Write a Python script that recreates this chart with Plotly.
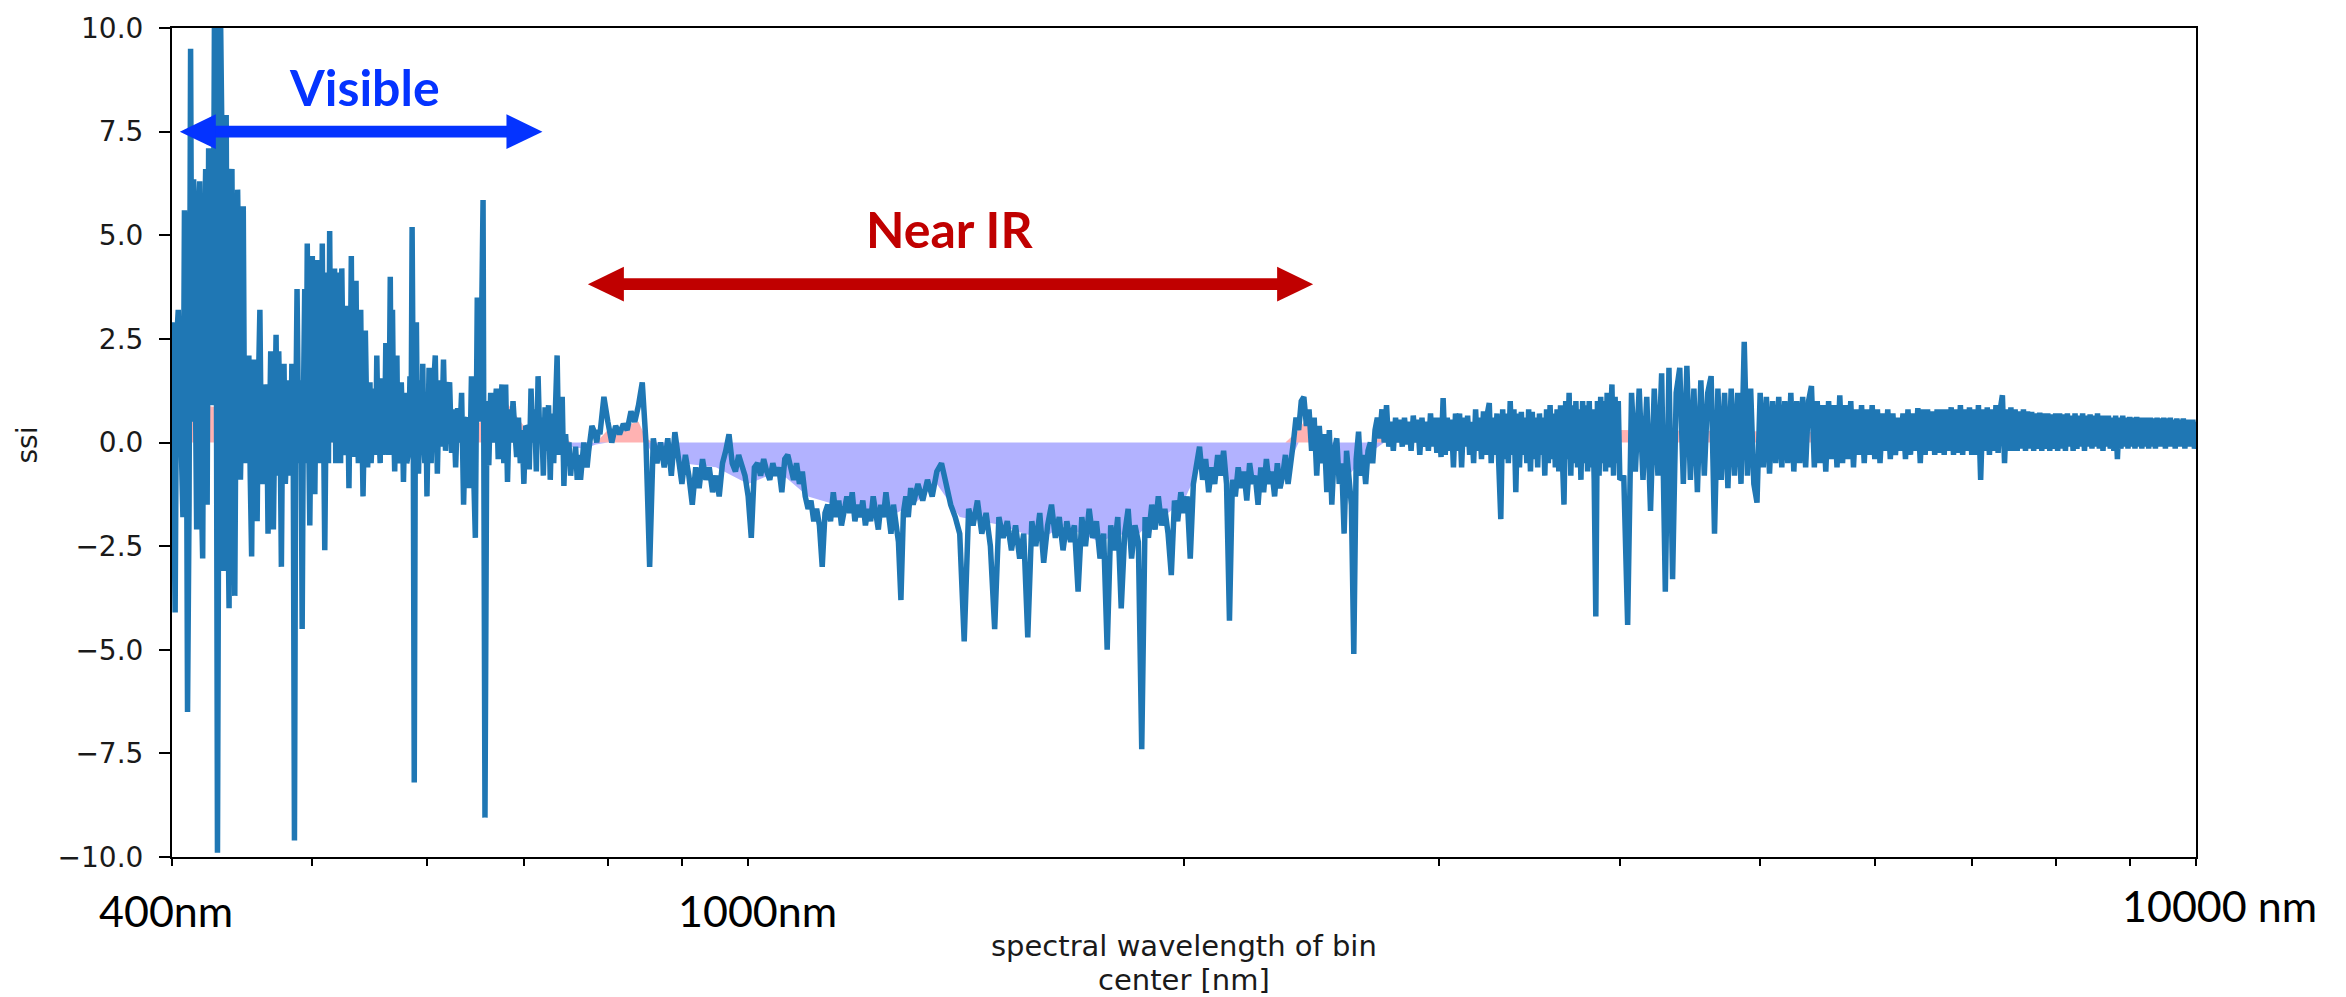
import math
import plotly.graph_objects as go

# ---------------- data ----------------
wl_vis = [400, 402, 404, 406, 408, 410, 412, 414, 416, 418,
          420, 422, 424, 426, 428, 430, 432, 434, 436, 438,
          440, 442, 444, 446, 448, 450, 452, 454, 456, 458,
          460, 462, 464, 466, 468, 470, 472, 474, 476, 478,
          480, 482, 484, 486, 488, 490, 492, 494, 496, 498,
          500, 502, 504, 506, 508, 510, 512, 514, 516, 518,
          520, 522, 524, 526, 528, 530, 532, 534, 536, 538,
          540, 542, 544, 546, 548, 550, 552, 554, 556, 558,
          560, 562, 564, 566, 568, 570, 572, 574, 576, 578,
          580, 582, 584, 586, 588, 590, 592, 594, 596, 598,
          600, 602, 604, 606, 608, 610, 612, 614, 616, 618,
          620, 622, 624, 626, 628, 630, 632, 634, 636, 638,
          640, 642, 644, 646, 648, 650, 652, 654, 656, 658,
          660, 662, 664, 666, 668, 670, 672, 674, 676, 678,
          680, 682, 684, 686, 688, 690, 692, 694, 696, 698,
          700, 702, 704, 706, 708, 710, 712, 714, 716, 718,
          720, 722, 724, 726, 728, 730, 732, 734, 736, 738,
          740, 742, 744, 746, 748, 750, 752, 754, 756, 758,
          760, 762, 764, 766, 768, 770, 772, 774, 776, 778,
          780, 782, 784, 786, 788, 790]
ssi_vis = [2.9, -4.1, 3.2, -0.8, 5.6, -6.5, 9.5, 6.35, -2.1, 6.3,
           -2.8, 6.6, 7.1, 0.9, 10.8, -9.9, 10.6, -3.1, 7.9, -4.0,
           6.6, -3.7, 6.1, -0.9, 5.7, 0.35, 2.1, -2.75, 2.0, -1.9,
           3.2, -1.0, 1.4, -2.2, 2.2, -2.1, 2.6, 2.2, -3.0, 1.9,
           -0.2, 1.5, 1.9, -9.6, 3.7, -0.5, -4.5, 3.7, 4.8, -2.0,
           4.5, -1.25, 4.4, -0.5, 4.8, -2.6, 4.1, 5.1, 0.0, 4.2,
           0.8, 4.1, 4.2, -0.3, 3.3, -1.1, 4.5, -0.35, 3.9, -0.5,
           3.2, -1.3, 2.7, -0.6, 1.45, 0.0, 1.3, 2.1, 0.2, 1.55,
           0.6, 2.4, -0.3, 4.0, 3.2, -0.7, 2.1, 0.0, 1.45, -0.95,
           1.2, -0.35, 1.6, 5.2, -8.2, 2.9, -0.75, 1.5, 1.9, -0.5,
           -1.3, 1.8, -0.5, 1.2, 2.1, -0.75, 1.5, -0.1, 2.0, -0.2,
           1.2, 1.45, -0.25, 0.8, -0.6, 0.83, 0.0, 1.2, -1.5, 0.5,
           0.6, -1.1, 1.6, -0.5, -2.3, 3.5, 0.5, 2.0, 5.85, -9.05,
           1.0, -0.55, 1.2, 0.0, 1.0, 1.3, -0.4, 0.8, 1.4, -0.5,
           1.4, -0.95, 0.8, 0.0, 1.0, 0.3, -0.35, 0.6, -0.5, 0.3,
           -1.0, 0.4, 0.35, -0.65, 1.3, 0.0, 0.8, -0.7, 1.6, 0.0,
           0.6, -0.8, 0.85, -0.2, 0.9, -0.9, 0.7, -0.5, 0.8, 2.1,
           -0.3, 0.6, 1.1, -1.05, 0.2, -0.5, 0.0, -0.8, -0.3, -0.6,
           -0.1, -0.9, -0.3, -0.9, -0.5, 0.0, -0.35, -0.6, -0.2, 0.1,
           0.4, 0.3, 0.2, 0.0, 0.3, 0.2]

# in-between bins of the dense visible part
wl_vis_odd = [401, 403, 405, 407, 409, 411, 413, 415, 417, 419,
              421, 423, 425, 427, 429, 431, 433, 435, 437, 439,
              441, 443, 445, 447, 449, 451, 453, 455, 457, 459,
              461, 463, 465, 467, 469, 471, 473, 475, 477, 479,
              481, 483, 485, 487, 489, 491, 493, 495, 497, 499,
              501, 503, 505, 507, 509, 511, 513, 515, 517, 519,
              521, 523, 525, 527, 529, 531, 533, 535, 537, 539,
              541, 543, 545, 547, 549, 551, 553, 555, 557, 559,
              561, 563, 565, 567, 569, 571, 573, 575, 577, 579,
              581, 583, 585, 587, 589, 591, 593, 595, 597, 599]
ssi_vis_odd = [-1.0, 2.5, 1.5, -1.8, 4.5, -1.5, 0.5, 3.0, 5.5, -1.0,
               4.5, -1.5, 5.5, 2.0, 6.5, 1.0, 7.5, 1.5, -1.0, 5.0,
               0.5, 2.0, 3.5, 1.0, -0.5, 1.2, -0.8, 1.0, 0.5, 1.5,
               0.0, -0.5, 1.2, 0.0, 0.5, 0.5, -0.8, 0.5, 1.0, -1.0,
               0.8, -0.8, 0.5, 0.5, 0.8, 1.5, 1.0, -0.5, 0.5, 0.8,
               0.5, 1.5, 0.5, 1.0, 0.5, 0.5, -0.5, 1.0, 1.5, -0.5,
               1.0, -0.5, 1.5, 0.0, 1.0, 1.2, 0.5, 1.0, 0.5, 1.2,
               0.5, 0.2, 1.0, 0.5, -0.5, 0.8, -0.3, 0.5, -0.5, -0.3,
               0.2, 0.5, 0.8, -0.3, 0.5, 0.8, -0.5, -0.5, 0.5, 0.3,
               -0.5, 0.0, 0.0, 1.0, 0.5, 0.0, 0.5, -0.3, 0.0, 0.8]

wl_nir1 = [795, 800, 805, 810, 815, 820, 825, 830, 835, 840,
           845, 850, 855, 860, 865, 870, 875, 880, 885, 890,
           895, 900, 905, 910, 915, 920, 925, 930, 935, 940,
           945, 950, 955, 960, 965, 970, 975, 980, 985, 990,
           995, 1000, 1005, 1010, 1015, 1020, 1025, 1030, 1035, 1040,
           1045, 1050, 1055, 1060, 1065, 1070, 1075, 1080, 1085, 1090,
           1095, 1100, 1105, 1110, 1115, 1120, 1125, 1130, 1135, 1140,
           1145, 1150, 1155, 1160, 1165, 1170, 1175, 1180, 1185, 1190,
           1195, 1200, 1205, 1210, 1215, 1220, 1225, 1230, 1235, 1240,
           1245, 1250, 1255, 1260, 1265, 1270, 1275, 1280, 1285, 1290,
           1295, 1300]
ssi_nir1 = [1.1, 0.5, 0.0, 0.4, 0.2, 0.45, 0.3, 0.75, 0.5, 0.9,
            1.45, 0.0, -3.0, 0.1, -0.5, 0.0, -0.6, 0.1, -0.8, 0.25,
            -0.5, -1.0, -0.3, -0.8, -1.5, -0.6, -1.1, -0.4, -0.9, -0.6,
            -1.2, -0.8, -1.3, -0.5, -0.2, 0.2, -0.5, -0.7, -0.3, -0.6,
            -0.8, -1.3, -2.3, -0.6, -0.5, -0.8, -0.4, -0.7, -0.9, -0.5,
            -0.8, -0.6, -1.2, -0.4, -0.3, -0.6, -0.9, -0.5, -1.0, -0.7,
            -1.3, -1.6, -1.4, -1.9, -1.6, -2.0, -3.0, -1.7, -1.5, -1.9,
            -1.2, -1.8, -1.4, -2.0, -1.6, -1.3, -1.7, -1.2, -1.9, -1.5,
            -1.8, -1.4, -2.0, -1.6, -1.9, -1.3, -1.7, -2.1, -1.5, -1.8,
            -1.2, -1.6, -2.2, -1.5, -2.0, -2.4, -3.8, -1.7, -1.3, -1.8,
            -1.1, -1.5]

wl_nir2 = [1310, 1320, 1330, 1340, 1350, 1360, 1370, 1380, 1390, 1400,
           1410, 1420, 1430, 1440, 1450, 1460, 1470, 1480, 1490, 1500,
           1510, 1520, 1530, 1540, 1550, 1560, 1570, 1580, 1590, 1600,
           1610, 1620, 1630, 1640, 1650, 1660, 1670, 1680, 1690, 1700,
           1710, 1720, 1730, 1740, 1750, 1760, 1770, 1780, 1790, 1800,
           1810, 1820, 1830, 1840, 1850, 1860, 1870, 1880, 1890, 1900,
           1910, 1920, 1930, 1940, 1950, 1960, 1970, 1980, 1990, 2000,
           2010, 2020, 2030, 2040, 2050, 2060, 2070, 2080, 2090, 2100,
           2110, 2120, 2130, 2140, 2150, 2160, 2170, 2180, 2190, 2200,
           2210, 2220, 2230, 2240, 2250, 2260, 2270, 2280, 2290, 2300,
           2310, 2320, 2330, 2340, 2350, 2360, 2370, 2380, 2390, 2400,
           2410, 2420, 2430, 2440, 2450, 2460, 2470, 2480, 2490, 2500,
           2510, 2520, 2530, 2540, 2550, 2560, 2570, 2580, 2590, 2600,
           2610, 2620, 2630, 2640, 2650, 2660, 2670, 2680, 2690, 2700,
           2710, 2720, 2730, 2740, 2750]
ssi_nir2 = [-1.0, -1.4, -0.9, -1.3, -0.7, -0.5, -1.0, -1.5, -1.8, -2.2,
            -4.8, -1.6, -2.0, -1.4, -2.2, -1.7, -2.5, -4.5, -1.8, -2.3,
            -1.9, -2.6, -2.0, -2.8, -2.2, -4.7, -1.9, -2.5, -1.7, -2.9,
            -2.0, -1.5, -2.3, -1.8, -2.6, -1.9, -2.4, -2.0, -3.6, -1.8,
            -2.5, -1.6, -2.3, -1.9, -2.8, -2.2, -5.0, -2.0, -2.6, -1.8,
            -4.0, -2.2, -1.6, -2.8, -2.0, -2.4, -7.4, -1.8, -2.3, -1.5,
            -2.1, -1.3, -2.0, -1.6, -2.2, -3.2, -1.4, -1.9, -1.2, -1.7,
            -1.3, -2.8, -1.0, -0.5, -0.1, -0.9, -0.4, -1.2, -0.6, -1.0,
            -0.3, -0.8, -0.2, -1.0, -4.3, -0.9, -1.3, -0.6, -1.1, -0.7,
            -1.4, -0.5, -1.0, -0.8, -1.5, -0.6, -1.2, -0.4, -1.0, -0.7,
            -1.3, -0.5, -1.1, -0.8, -0.3, -1.0, -0.6, 0.0, 0.6, 0.3,
            1.0, 1.1, 0.4, 0.8, -0.2, 0.6, -0.8, 0.4, -0.5, 0.2,
            -1.2, 0.3, -1.5, -0.2, 0.1, -1.0, -0.5, -2.2, -0.2, -0.8,
            -1.5, -5.1, -0.4, 0.26, -0.8, -0.3, -1.0, -0.2, 0.0, -0.5,
            0.3, 0.6, 0.1, 0.8, 0.0]

wl_ir1 = [2760, 2770, 2780, 2790, 2800, 2810, 2820, 2830, 2840, 2850,
          2860, 2870, 2880, 2890, 2900, 2910, 2920, 2930, 2940, 2950,
          2960, 2970, 2980, 2990, 3000, 3010, 3020, 3030, 3040, 3050,
          3060, 3070, 3080, 3090, 3100, 3110, 3120, 3130, 3140, 3150,
          3160, 3170, 3180, 3190, 3200, 3210, 3220, 3230, 3240, 3250,
          3260, 3270, 3280, 3290, 3300, 3310, 3320, 3330, 3340, 3350,
          3360, 3370, 3380, 3390, 3400, 3410, 3420, 3430, 3440, 3450,
          3460, 3470, 3480, 3490, 3500, 3510, 3520, 3530, 3540, 3550,
          3560, 3570, 3580, 3590, 3600, 3610, 3620, 3630, 3640, 3650,
          3660, 3670, 3680, 3690, 3700, 3710, 3720, 3730, 3740, 3750,
          3760, 3770, 3780, 3790, 3800, 3810, 3820, 3830, 3840, 3850,
          3860, 3870, 3880, 3890, 3900, 3910, 3920, 3930, 3940, 3950,
          3960, 3970, 3980, 3990, 4000]
ssi_ir1 = [0.9, -0.1, 0.5, -0.2, 0.6, 0.0, 0.55, -0.1, 0.6, -0.05,
           0.5, -0.2, 0.65, 0.0, 0.55, -0.3, 0.6, -0.1, 0.5, -0.2,
           0.7, -0.1, 0.6, -0.25, 0.6, -0.35, 1.07, -0.3, 0.6, -0.2,
           0.55, -0.6, 0.7, -0.2, 0.7, -0.6, 0.6, -0.1, 0.65, -0.3,
           0.5, -0.5, 0.8, -0.2, 0.6, -0.4, 0.75, -0.3, 0.7, 0.95,
           -0.5, 0.6, -0.3, 0.7, -0.6, -1.85, 0.8, -0.4, 0.7, -0.5,
           1.0, -0.3, 0.8, -1.2, 0.7, -0.6, 0.74, -0.3, 0.6, -0.5,
           0.8, -0.7, 0.74, -0.4, 0.6, -0.6, 0.7, -0.3, 0.6, -0.8,
           0.8, -0.5, 0.9, -0.4, 0.7, -0.6, 0.8, -0.7, 0.9, -0.5,
           -1.5, 1.0, -0.4, 1.2, -0.8, 0.9, -0.5, 1.0, -0.6, 0.8,
           -0.9, 1.0, -0.5, 0.9, -0.7, 1.0, -0.6, 0.8, -0.9, -4.2,
           1.0, -0.8, 1.1, -0.5, 1.0, -0.7, 1.2, -0.6, 0.9, 1.4,
           -0.8, 1.1, -0.5, 1.0, -0.9]

wl_ir2 = [4025, 4050, 4075, 4100, 4125, 4150, 4175, 4200, 4225, 4250,
          4275, 4300, 4325, 4350, 4375, 4400, 4425, 4450, 4475, 4500,
          4525, 4550, 4575, 4600, 4625, 4650, 4675, 4700, 4725, 4750,
          4775, 4800, 4825, 4850, 4875, 4900, 4925, 4950, 4975, 5000,
          5025, 5050, 5075, 5100, 5125, 5150, 5175, 5200, 5225, 5250,
          5275, 5300, 5325, 5350, 5375, 5400, 5425, 5450, 5475, 5500,
          5525, 5550, 5575, 5600, 5625, 5650, 5675, 5700, 5725, 5750,
          5775, 5800, 5825, 5850, 5875, 5900, 5925, 5950, 5975, 6000,
          6025, 6050, 6075, 6100, 6125, 6150, 6175, 6200, 6225, 6250,
          6275, 6300, 6325, 6350, 6375, 6400, 6425, 6450, 6475, 6500,
          6525, 6550, 6575, 6600, 6625, 6650, 6675, 6700, 6725, 6750,
          6775, 6800, 6825, 6850, 6875, 6900, 6925, 6950, 6975, 7000]
ssi_ir2 = [-0.8, -4.4, 1.2, -0.7, 1.3, -0.9, 1.1, -1.65, 1.3, -0.8,
           1.67, -3.6, 1.8, -3.3, 1.2, 1.8, -1.0, 1.85, -0.9, 1.3,
           -1.2, 1.5, -0.8, 1.2, 1.6, -2.2, 1.3, -0.9, 1.2, -1.1,
           1.3, -0.8, 1.2, -1.0, 2.43, -0.8, 1.3, -1.0, -1.45, 1.2,
           -0.6, 1.1, -0.75, 1.0, -0.5, 1.1, -0.6, 1.0, -0.5, 1.2,
           -0.7, 1.0, -0.5, 1.1, -0.6, 1.0, 1.36, -0.6, 1.0, -0.5,
           0.9, -0.7, 1.0, -0.4, 0.9, -0.6, 1.14, -0.5, 0.9, -0.4,
           1.0, -0.6, 0.8, -0.3, 0.9, -0.5, 0.8, -0.3, 0.9, -0.4,
           0.8, -0.5, 0.7, -0.2, 0.8, -0.4, 0.7, -0.3, 0.6, -0.2,
           0.7, -0.4, 0.8, -0.3, 0.7, -0.2, 0.83, -0.5, 0.8, -0.3,
           0.8, -0.2, 0.75, -0.3, 0.8, -0.25, 0.8, -0.3, 0.8, -0.2,
           0.85, -0.3, 0.8, -0.25, 0.9, -0.3, 0.8, -0.2, 0.85, -0.3]

wl_ir3 = [7025, 7050, 7075, 7100, 7125, 7150, 7175, 7200, 7225, 7250,
          7275, 7300, 7325, 7350, 7375, 7400, 7425, 7450, 7475, 7500,
          7525, 7550, 7575, 7600, 7625, 7650, 7675, 7700, 7725, 7750,
          7775, 7800, 7825, 7850, 7875, 7900, 7925, 7950, 7975, 8000,
          8025, 8050, 8075, 8100, 8125, 8150, 8175, 8200, 8225, 8250,
          8275, 8300, 8325, 8350, 8375, 8400, 8425, 8450, 8475, 8500,
          8525, 8550, 8575, 8600, 8625, 8650, 8675, 8700, 8725, 8750,
          8775, 8800, 8825, 8850, 8875, 8900, 8925, 8950, 8975, 9000,
          9025, 9050, 9075, 9100, 9125, 9150, 9175, 9200, 9225, 9250,
          9275, 9300, 9325, 9350, 9375, 9400, 9425, 9450, 9475, 9500,
          9525, 9550, 9575, 9600, 9625, 9650, 9675, 9700, 9725, 9750,
          9775, 9800, 9825, 9850, 9875, 9900, 9925, 9950, 9975, 10000]
ssi_ir3 = [0.8, -0.3, 0.9, -0.9, 0.8, -0.2, 0.85, -0.3, 0.8, -0.2,
           0.9, -0.25, 0.8, 1.14, -0.5, 0.8, -0.2, 0.85, -0.2, 0.8,
           -0.2, 0.75, -0.15, 0.8, -0.2, 0.75, -0.15, 0.74, -0.2, 0.7,
           -0.15, 0.72, -0.2, 0.7, -0.15, 0.7, -0.2, 0.68, -0.15, 0.7,
           -0.2, 0.7, -0.15, 0.68, -0.2, 0.7, -0.1, 0.65, -0.2, 0.7,
           -0.15, 0.65, -0.1, 0.7, -0.2, 0.65, -0.1, 0.68, -0.15, 0.65,
           -0.1, 0.7, -0.15, 0.65, -0.2, 0.65, -0.1, 0.65, -0.15, 0.6,
           -0.2, 0.65, -0.4, 0.6, -0.15, 0.65, -0.1, 0.6, -0.15, 0.62,
           -0.1, 0.6, -0.15, 0.62, -0.1, 0.6, -0.15, 0.6, -0.1, 0.6,
           -0.15, 0.6, -0.1, 0.58, -0.15, 0.6, -0.1, 0.58, -0.1, 0.6,
           -0.15, 0.58, -0.1, 0.6, -0.1, 0.55, -0.15, 0.58, -0.1, 0.55,
           -0.1, 0.58, -0.15, 0.55, -0.1, 0.55, -0.1, 0.55, -0.15, 0.5]

# smoothed level used for the red / blue shading
wl_fill = [400, 420, 440, 460, 480, 500, 520, 540, 560, 580,
           600, 620, 640, 660, 680, 700, 720, 740, 755, 770,
           785, 800, 820, 840, 850, 860, 880, 900, 950, 1000,
           1050, 1100, 1150, 1200, 1250, 1300, 1350, 1400, 1450, 1500,
           1550, 1600, 1650, 1700, 1750, 1800, 1850, 1900, 1950, 2000,
           2050, 2100, 2150, 2200, 2250, 2300, 2350, 2400, 2430, 2460,
           2500, 2550, 2600, 2650, 2700, 2750, 3000, 4000, 6000, 8000,
           10000]
ssi_fill = [0.6, 0.9, 0.8, 0.6, 0.85, 0.7, 0.95, 0.6, 0.85, 0.5,
            0.4, 0.5, 0.3, 0.6, 1.0, 0.4, 0.3, 0.2, -0.1, -0.15,
            -0.05, 0.3, 0.4, 0.5, 0.1, -0.3, -0.2, -0.5, -0.6, -1.0,
            -0.7, -1.3, -1.5, -1.6, -1.8, -1.5, -1.0, -1.8, -1.9, -2.0,
            -2.2, -2.3, -2.0, -2.2, -2.4, -2.2, -2.3, -1.9, -1.7, -1.4,
            -0.6, -0.7, -0.9, -1.0, -1.0, -0.9, -0.7, 0.3, 0.6, 0.2,
            -0.4, -0.5, -0.8, -0.4, -0.2, 0.2, 0.25, 0.3, 0.25, 0.2,
            0.2]

x_ticks = [400, 500, 600, 700, 800, 900, 1000, 2000, 3000, 4000,
           5000, 6000, 7000, 8000, 9000, 10000]
y_ticks = [-10, -7.5, -5, -2.5, 0, 2.5, 5, 7.5, 10]
# overlay wavelength labels: (text, centre pixel x, centre pixel y)
x_labels = [("400nm", 166, 911), ("1000nm", 757, 911), ("10000 nm", 2219, 906)]

# annotation arrows: (start nm, end nm, ssi level)
arrow_visible = (405, 721, 7.5)
arrow_nearir = (775, 2456, 3.82)

# ---------------- assemble ----------------
pairs = [(wl_vis, ssi_vis), (wl_vis_odd, ssi_vis_odd), (wl_nir1, ssi_nir1),
         (wl_nir2, ssi_nir2), (wl_ir1, ssi_ir1), (wl_ir2, ssi_ir2),
         (wl_ir3, ssi_ir3)]
points = []
for a, b in pairs:
    assert len(a) == len(b), (len(a), len(b))
    points += list(zip(a, b))
points.sort(key=lambda p: p[0])
wl = [p[0] for p in points]
ssi = [p[1] for p in points]
assert len(wl_fill) == len(ssi_fill)

fill_pos = [max(v, 0) for v in ssi_fill]
fill_neg = [min(v, 0) for v in ssi_fill]

fig = go.Figure()
fig.add_trace(go.Scatter(x=wl_fill, y=fill_pos, mode="lines", line=dict(width=0),
                         fill="tozeroy", fillcolor="rgba(255,0,0,0.3)",
                         hoverinfo="skip", showlegend=False))
fig.add_trace(go.Scatter(x=wl_fill, y=fill_neg, mode="lines", line=dict(width=0),
                         fill="tozeroy", fillcolor="rgba(0,0,255,0.3)",
                         hoverinfo="skip", showlegend=False))
fig.add_trace(go.Scatter(x=wl, y=ssi, mode="lines",
                         line=dict(color="#1f77b4", width=5.5),
                         showlegend=False))

L, R, T, B = 172, 150, 19, 140
W, H = 2346, 997
PW, PH = W - L - R, H - T - B
LX0, LX1 = math.log10(400), math.log10(10000)


def xpap(v):
    return (math.log10(v) - LX0) / (LX1 - LX0)


def ypap(v):
    return (v + 10) / 20


def px_x(p):
    return (p - L) / PW


def px_y(p):
    return (H - B - p) / PH


def double_arrow(spec, color):
    a, b, lev = spec
    xa, xb, y = xpap(a), xpap(b), ypap(lev)
    hl, hh, sw = 36 / PW, 17.5 / PH, 6 / PH
    return [dict(type="rect", xref="paper", yref="paper",
                 x0=xa + hl * 0.9, x1=xb - hl * 0.9, y0=y - sw, y1=y + sw,
                 fillcolor=color, line=dict(width=0)),
            dict(type="path", xref="paper", yref="paper",
                 path=f"M{xa},{y} L{xa + hl},{y + hh} L{xa + hl},{y - hh} Z",
                 fillcolor=color, line=dict(width=0)),
            dict(type="path", xref="paper", yref="paper",
                 path=f"M{xb},{y} L{xb - hl},{y + hh} L{xb - hl},{y - hh} Z",
                 fillcolor=color, line=dict(width=0))]


shapes = double_arrow(arrow_visible, "#0433FF") + double_arrow(arrow_nearir, "#C00000")

TICKFONT = dict(family="DejaVu Sans", size=28, color="#1a1a1a")
LABELFONT = dict(family="DejaVu Sans", size=29, color="#1a1a1a")
annotations = []
for t, cx, cy in x_labels:
    annotations.append(dict(x=px_x(cx), y=px_y(cy), xref="paper", yref="paper",
                            text=t, showarrow=False, xanchor="center", yanchor="middle",
                            font=dict(family="Lato", size=43, color="#000000")))
annotations += [
    dict(x=px_x(364), y=px_y(79), xref="paper", yref="paper",
         text="Visible", showarrow=False, xanchor="center", yanchor="middle",
         font=dict(family="Lato", size=50, color="#0433FF", weight=700)),
    dict(x=px_x(949), y=px_y(222), xref="paper", yref="paper",
         text="Near IR", showarrow=False, xanchor="center", yanchor="middle",
         font=dict(family="Lato", size=50, color="#C00000", weight=700)),
    dict(x=0.5, y=px_y(947), xref="paper", yref="paper",
         text="spectral wavelength of bin", showarrow=False,
         xanchor="center", yanchor="middle", font=LABELFONT),
    dict(x=0.5, y=px_y(981), xref="paper", yref="paper",
         text="center [nm]", showarrow=False,
         xanchor="center", yanchor="middle", font=LABELFONT),
    dict(x=px_x(27), y=0.4964, xref="paper", yref="paper",
         text="ssi", showarrow=False, textangle=-90,
         xanchor="center", yanchor="middle", font=TICKFONT),
]

fig.update_layout(
    width=W, height=H,
    margin=dict(l=L, r=R, t=T, b=B, pad=0),
    paper_bgcolor="white", plot_bgcolor="white",
    showlegend=False,
    shapes=shapes, annotations=annotations,
    xaxis=dict(type="log", range=[LX0, LX1], tickvals=x_ticks,
               showticklabels=False, ticks="outside", ticklen=7, tickwidth=2,
               tickcolor="#000", showline=True, linewidth=2, linecolor="#000",
               mirror=True, showgrid=False, zeroline=False),
    yaxis=dict(range=[-10, 10], tickvals=y_ticks,
               ticktext=[f"{v:.1f}".replace("-", "\u2212") for v in y_ticks],
               ticks="outside", ticklen=11, tickwidth=2, tickcolor="#000",
               tickfont=TICKFONT, ticklabelstandoff=10,
               showline=True, linewidth=2, linecolor="#000", mirror=True,
               showgrid=False, zeroline=False),
)

fig.write_html("out.html")
